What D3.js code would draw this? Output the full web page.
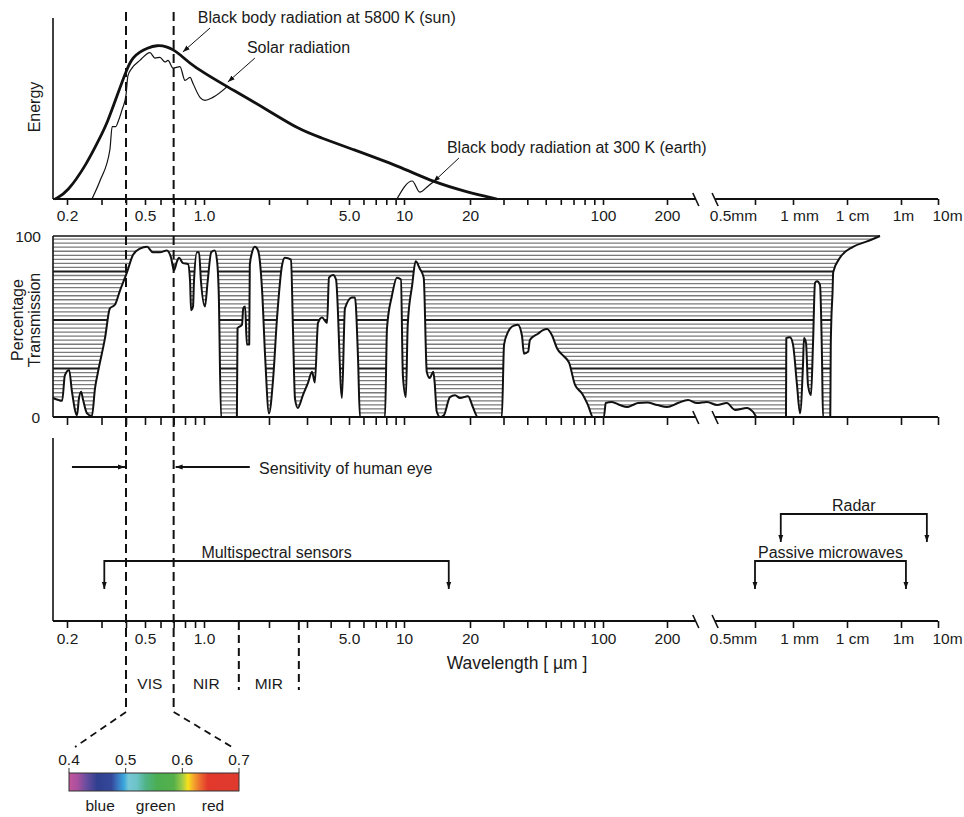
<!DOCTYPE html>
<html>
<head>
<meta charset="utf-8">
<script src="https://cdn.jsdelivr.net/npm/d3@7"></script>
<style>
  body { margin: 0; background: #fff; }
  svg { display: block; }
  text { font-family: "Liberation Sans", Arial, sans-serif; fill: #1a1a1a; }
</style>
</head>
<body>
<div id="chart"></div>
<script>
// ---- data (wavelengths in µm) ----

// hand-drawn axis: wavelength -> position knots (the figure is not a true log axis)
const knotWl = [0.2, 1, 3, 5, 10, 20, 100, 200, 500, 1000, 1e4, 1e6, 1e7];
const knotPx = [67, 204, 307, 349, 404, 470, 603, 667, 755, 793, 847, 901, 938];
const breakWl = [270, 330];

const tickWl = [0.2, 0.3, 0.4, 0.5, 0.6, 0.7, 0.8, 0.9, 1, 2, 3, 4, 5, 6, 7, 8, 9, 10,
  20, 30, 40, 50, 60, 70, 80, 90, 100, 200, 500, 1000, 1e4, 1e6, 1e7];
const labelWl = [0.2, 0.5, 1, 5, 10, 20, 100, 200, 500, 1000, 1e4, 1e6, 1e7];
const labelText = ["0.2", "0.5", "1.0", "5.0", "10", "20", "100", "200", "0.5mm", "1 mm", "1 cm", "1m", "10m"];

// energy curves (relative energy, peak = 1)
const sunWl = [0.174, 0.2, 0.253, 0.295, 0.32, 0.36, 0.405, 0.434, 0.471, 0.512, 0.576, 0.647,
  0.695, 0.754, 0.879, 1.28, 1.96, 2.78, 3.52, 5.03, 9.5, 13.6, 19.4, 27.7];
const sunE = [0, 0.04, 0.23, 0.40, 0.49, 0.67, 0.85, 0.92, 0.955, 0.98, 1.0, 0.99,
  0.97, 0.94, 0.86, 0.73, 0.58, 0.448, 0.40, 0.33, 0.21, 0.11, 0.045, 0];

const solarWl = [0.268, 0.295, 0.331, 0.340, 0.355, 0.364, 0.382, 0.400, 0.409, 0.429, 0.471, 0.530,
  0.562, 0.596, 0.632, 0.655, 0.695, 0.754, 0.80, 0.849, 0.879, 0.954, 1.01, 1.10, 1.28];
const solarE = [0, 0.12, 0.32, 0.47, 0.47, 0.50, 0.58, 0.675, 0.80, 0.85, 0.90, 0.95,
  0.915, 0.92, 0.89, 0.90, 0.85, 0.86, 0.77, 0.79, 0.75, 0.66, 0.64, 0.66, 0.73];

const earthWl = [9.15, 10.9, 11.8, 12.9, 13.6];
const earthE = [0, 0.117, 0.045, 0.085, 0.11];

// atmospheric transmission (%)
const transWl = [0.170, 0.189, 0.195, 0.205, 0.212, 0.225, 0.230, 0.236, 0.241, 0.253, 0.268, 0.278, 0.288,
  0.313, 0.331, 0.351, 0.373, 0.405, 0.434, 0.471, 0.512, 0.549, 0.596, 0.647, 0.679, 0.703, 0.728,
  0.745, 0.781, 0.828, 0.849, 0.859, 0.879, 0.889, 0.921, 0.943, 0.965, 1.01, 1.04, 1.08, 1.12,
  1.15, 1.17, 1.20, 1.42, 1.43, 1.50, 1.52, 1.55, 1.58, 1.62, 1.63, 1.67, 1.72, 1.78, 1.86, 1.92,
  2.00, 2.09, 2.18, 2.30, 2.37, 2.53, 2.58, 2.64, 2.72, 2.87, 3.04, 3.19, 3.30, 3.43, 3.60, 3.83,
  3.92, 4.12, 4.27, 4.59, 4.76, 5.19, 5.39, 5.60, 5.74, 7.87, 8.07, 8.59, 9.15, 9.62, 9.86, 10.2,
  10.4, 10.9, 11.3, 11.8, 12.3, 12.7, 13.1, 13.6, 13.8, 14.1, 14.6, 15.2, 16.2, 17.1, 18.0, 19.6,
  20.7, 22.0, 29.4, 30.2, 31.7, 33.3, 35.7, 37.5, 38.4, 40.4, 41.3, 45.5, 48.4, 50.8, 54.0, 57.3,
  61.6, 66.3, 71.3, 77.6, 83.4, 88.6, 101, 103, 110, 120, 130, 138, 146, 161, 180, 200, 224, 249,
  273, 303, 337, 373, 406, 460, 490, 518, 880, 885, 946, 1000, 1186, 1348, 1531, 1598, 1740, 1895,
  2154, 2345, 2555, 2783, 3162, 3444, 3594, 4900, 4950, 5000, 5100, 5400, 5550, 7400, 16700, 55000, 167000];
const transPct = [10.5, 9, 23, 26, 14, 1, 10, 14, 10, 2, 0.5, 16, 25,
  44, 60, 62, 70, 80, 89.5, 93, 94, 91, 91, 92, 88, 81, 86,
  88, 85, 84.5, 75, 59, 61, 75, 91, 91, 75, 61, 75, 91, 92,
  86, 69, 0, 0, 49, 51, 60, 61, 40, 40, 84, 91, 94, 92, 69, 33,
  2, 21, 55, 84, 88, 87, 51, 10, 5, 12, 19, 25, 19, 52, 55, 52,
  77, 78.5, 76, 10.5, 60, 66, 66, 33, 0, 0, 49, 67, 77, 76, 23, 11,
  51, 73, 86, 82, 77, 25, 21.5, 25, 19, 3, 0, 1, 11, 12, 10.5, 11.5,
  5.5, 0, 0, 40, 47, 50, 51, 45, 35, 36, 42.5, 46, 48, 48.6, 45, 38,
  34, 30, 17.7, 13, 6.6, 0, 0, 7.7, 8.3, 6.6, 5.5, 6.6, 7.7, 8, 6.6, 5.5, 7.7, 9.4,
  7.7, 8.3, 6.6, 7.7, 3.9, 5, 2.8, 0, 0, 43.6, 44, 40, 17.7, 2, 28.7, 43.6, 41, 17.7,
  12, 40, 74, 75, 73, 32.6, 0, 0, 17.7, 38, 51, 69, 80, 88, 94, 97, 100];

// annotations in the energy panel
const noteText = ["Black body radiation at 5800 K (sun)", "Solar radiation", "Black body radiation at 300 K (earth)"];
const noteTextWl = [0.93, 1.58, 15.7];
const noteTextE = [1.143, 0.951, 0.299];
const noteTailWl = [1.066, 1.72, 17.8];
const noteTailE = [1.11, 0.915, 0.266];
const noteHeadWl = [0.78, 1.29, 13.6];
const noteHeadE = [0.955, 0.76, 0.11];

// visible range and spectral regions
const eyeWl = [0.4, 0.7];
const regionNames = ["VIS", "NIR", "MIR"];
const regionEdges = [0.4, 0.7, 1.45, 2.75];

// sensor ranges
const sensorNames = ["Multispectral sensors", "Radar", "Passive microwaves"];
const sensorFrom = [0.31, 800, 500];
const sensorTo = [16, 5e6, 1.36e6];
const sensorRow = ["sensors", "radar", "sensors"];

// visible colour bar
const specTicks = [0.4, 0.5, 0.6, 0.7];
const specWl = [0.40, 0.415, 0.43, 0.45, 0.475, 0.487, 0.497, 0.505, 0.52, 0.535, 0.555, 0.585,
  0.6, 0.61, 0.62, 0.632, 0.645, 0.70];
const specColor = ["#c4549c", "#a9509e", "#6a4d9f", "#2f3f8f", "#34489a", "#3b7cc4", "#3aa6dc", "#76c7d6",
  "#6cc3c6", "#4fb487", "#4bae52", "#55b04a", "#a2cd45", "#f7e11b", "#f4a42c", "#ec6a2e", "#e2382c", "#df3a2f"];
const colourNames = ["blue", "green", "red"];
const colourWl = [0.455, 0.553, 0.654];

// ---- layout ----
const W = 964, H = 817;
const left = 53;
const base1 = 199, base2 = 417, top2 = 236, top3 = 438, base3 = 621;
const font = 15.5;

const svg = d3.select("#chart").append("svg").attr("width", W).attr("height", H);

const x = d3.scaleLinear().domain(knotWl.map(Math.log10)).range(knotPx);
const xw = w => x(Math.log10(w));
const yE = d3.scaleLinear().domain([0, 1]).range([base1, 45]);
const yT = d3.scaleLinear().domain([0, 100]).range([base2, top2]);
const rows = d3.scalePoint().domain(["eye", "radar", "sensors"]).range([467, 561]);
const xc = d3.scaleLinear().domain([0.4, 0.7]).range([69, 239]);

// arrow markers
const defs = svg.append("defs");
function marker(id, size) {
  defs.append("marker").attr("id", id)
    .attr("viewBox", "0 0 10 10").attr("refX", 10).attr("refY", 5)
    .attr("markerWidth", size).attr("markerHeight", size)
    .attr("markerUnits", "userSpaceOnUse")
    .attr("orient", "auto-start-reverse")
    .append("path").attr("d", "M0,1.5 L10,5 L0,8.5 Z").attr("fill", "#111");
}
marker("arrowThin", 7);
marker("arrowBold", 7);

// axis with a break
function drawAxis(y0, len, withLabels) {
  const axis = d3.axisBottom(x)
    .tickValues(tickWl.map(Math.log10))
    .tickSize(len)
    .tickPadding(4.5)
    .tickFormat((d, i) => {
      if (!withLabels) return "";
      const k = labelWl.indexOf(tickWl[i]);
      return k < 0 ? "" : labelText[k];
    });
  const g = svg.append("g").attr("transform", `translate(0,${y0})`).call(axis);
  g.attr("font-family", null).attr("font-size", null);
  g.select(".domain").remove();
  g.selectAll(".tick line").attr("stroke", "#111").attr("stroke-width", 1.6);
  g.selectAll(".tick text").attr("font-size", font).attr("fill", "#1a1a1a")
    .attr("dx", (d, i) => ({500: -22, 1000: 6, 10000: 5, 1000000: 2, 10000000: 9})[tickWl[i]] || 0);
  const bL = xw(breakWl[0]), bR = xw(breakWl[1]);
  [[left, bL], [bR, xw(1e7)]].forEach(([a, b]) => {
    g.append("line").attr("x1", a).attr("x2", b).attr("y1", 0).attr("y2", 0)
      .attr("stroke", "#111").attr("stroke-width", 1.8);
  });
  [bL, bR].forEach(b => {
    g.append("line").attr("x1", b - 3).attr("x2", b + 3).attr("y1", -6).attr("y2", 7)
      .attr("stroke", "#111").attr("stroke-width", 1.6);
  });
}

// ---- panel 1: energy ----
svg.append("line").attr("x1", left).attr("x2", left).attr("y1", 18).attr("y2", base1)
  .attr("stroke", "#111").attr("stroke-width", 1.6);
drawAxis(base1, 6, true);

svg.append("text").attr("transform", `translate(40,107) rotate(-90)`)
  .attr("text-anchor", "middle").attr("font-size", 16).text("Energy");

const eLine = d3.line().x(d => xw(d[0])).y(d => yE(d[1])).curve(d3.curveMonotoneX);
svg.append("path").attr("d", eLine(d3.zip(solarWl, solarE)))
  .attr("fill", "none").attr("stroke", "#111").attr("stroke-width", 1.2);
svg.append("path").attr("d", eLine(d3.zip(earthWl, earthE)))
  .attr("fill", "none").attr("stroke", "#111").attr("stroke-width", 1.2);
svg.append("path").attr("d", eLine.curve(d3.curveBasis)(d3.zip(sunWl, sunE)))
  .attr("fill", "none").attr("stroke", "#111").attr("stroke-width", 2.8)
  .attr("stroke-linejoin", "round");

noteText.forEach((t, i) => {
  svg.append("text").attr("x", xw(noteTextWl[i])).attr("y", yE(noteTextE[i]))
    .attr("font-size", 16).text(t);
  svg.append("line")
    .attr("x1", xw(noteTailWl[i])).attr("y1", yE(noteTailE[i]))
    .attr("x2", xw(noteHeadWl[i])).attr("y2", yE(noteHeadE[i]))
    .attr("stroke", "#111").attr("stroke-width", 1)
    .attr("marker-end", "url(#arrowThin)");
});

// ---- panel 2: transmission ----
const trans = d3.zip(transWl, transPct);
const tCurve = d3.curveMonotoneX;
const tArea = d3.area().x(d => xw(d[0])).y0(yT(100)).y1(d => yT(d[1])).curve(tCurve);
const tLine = d3.line().x(d => xw(d[0])).y(d => yT(d[1])).curve(tCurve);
const tEnd = xw(transWl[transWl.length - 1]);

defs.append("clipPath").attr("id", "absorbed").append("path").attr("d", tArea(trans));

const hatchStep = 26.8 / 12;
const hatchT = d3.range(1, 45).map(k => k * hatchStep);
svg.append("g").attr("clip-path", "url(#absorbed)")
  .selectAll("line").data(hatchT).join("line")
  .attr("x1", left).attr("x2", tEnd)
  .attr("y1", d => yT(d)).attr("y2", d => yT(d))
  .attr("stroke", (d, i) => (i + 1) % 12 === 0 ? "#1e1e1e" : "#7a7a7a")
  .attr("stroke-width", (d, i) => (i + 1) % 12 === 0 ? 2 : 1.3);

svg.append("line").attr("x1", left).attr("x2", tEnd).attr("y1", yT(100)).attr("y2", yT(100))
  .attr("stroke", "#111").attr("stroke-width", 1.6);
svg.append("path").attr("d", tLine(trans))
  .attr("fill", "none").attr("stroke", "#111").attr("stroke-width", 2)
  .attr("stroke-linejoin", "round");
svg.append("line").attr("x1", left).attr("x2", left).attr("y1", top2).attr("y2", base2)
  .attr("stroke", "#111").attr("stroke-width", 1.6);
drawAxis(base2, 8, false);

svg.append("text").attr("x", 41).attr("y", yT(100) + 5.5).attr("text-anchor", "end")
  .attr("font-size", font).text("100");
svg.append("text").attr("x", 40).attr("y", yT(0) + 5.5).attr("text-anchor", "end")
  .attr("font-size", font).text("0");
svg.append("text").attr("transform", `translate(23,320) rotate(-90)`)
  .attr("text-anchor", "middle").attr("font-size", 16).text("Percentage");
svg.append("text").attr("transform", `translate(40,320) rotate(-90)`)
  .attr("text-anchor", "middle").attr("font-size", 16).text("Transmission");

// ---- panel 3: sensors ----
svg.append("line").attr("x1", left).attr("x2", left).attr("y1", top3).attr("y2", base3)
  .attr("stroke", "#111").attr("stroke-width", 1.6);
drawAxis(base3, 7, true);

svg.append("text").attr("x", 517).attr("y", 669).attr("text-anchor", "middle")
  .attr("font-size", 17.5).text("Wavelength [ µm ]");

// sensitivity of the human eye
const yEye = rows("eye");
svg.append("line").attr("x1", xw(0.212)).attr("x2", xw(eyeWl[0]) - 1).attr("y1", yEye).attr("y2", yEye)
  .attr("stroke", "#111").attr("stroke-width", 1.8).attr("marker-end", "url(#arrowBold)");
svg.append("line").attr("x1", xw(1.63)).attr("x2", xw(eyeWl[1]) + 2).attr("y1", yEye).attr("y2", yEye)
  .attr("stroke", "#111").attr("stroke-width", 1.8).attr("marker-end", "url(#arrowBold)");
svg.append("text").attr("x", xw(1.80)).attr("y", yEye + 7).attr("font-size", 16)
  .text("Sensitivity of human eye");

// sensor brackets
sensorNames.forEach((name, i) => {
  const yTop = rows(sensorRow[i]);
  const a = xw(sensorFrom[i]), b = xw(sensorTo[i]);
  svg.append("path").attr("d", `M${a},${yTop + 28}V${yTop}H${b}V${yTop + 28}`)
    .attr("fill", "none").attr("stroke", "#111").attr("stroke-width", 1.8)
    .attr("marker-start", "url(#arrowBold)").attr("marker-end", "url(#arrowBold)");
  svg.append("text").attr("x", (a + b) / 2).attr("y", yTop - 3.5).attr("text-anchor", "middle")
    .attr("font-size", 16).text(name);
});

// spectral region boundaries and names
regionEdges.slice(2).forEach(w => {
  svg.append("line").attr("x1", xw(w)).attr("x2", xw(w)).attr("y1", base3 + 1).attr("y2", 690)
    .attr("stroke", "#111").attr("stroke-width", 2).attr("stroke-dasharray", "8,5");
});
regionNames.forEach((n, i) => {
  const c = (xw(regionEdges[i]) + xw(regionEdges[i + 1])) / 2;
  svg.append("text").attr("x", c).attr("y", 689).attr("text-anchor", "middle")
    .attr("font-size", font).text(n);
});

// ---- visible spectrum bar ----
const grad = defs.append("linearGradient").attr("id", "spectrum")
  .attr("x1", "0%").attr("x2", "100%").attr("y1", "0%").attr("y2", "0%");
specWl.forEach((w, i) => {
  grad.append("stop").attr("offset", `${(w - 0.4) / 0.3 * 100}%`).attr("stop-color", specColor[i]);
});
svg.append("rect").attr("x", xc(0.4)).attr("y", 773).attr("width", xc(0.7) - xc(0.4)).attr("height", 18)
  .attr("fill", "url(#spectrum)").attr("stroke", "#333").attr("stroke-width", 1);
specTicks.forEach(v => {
  svg.append("line").attr("x1", xc(v)).attr("x2", xc(v)).attr("y1", 768).attr("y2", 773)
    .attr("stroke", "#333").attr("stroke-width", 1);
  svg.append("text").attr("x", xc(v)).attr("y", 765).attr("text-anchor", "middle")
    .attr("font-size", font).text(v.toFixed(1));
});
colourNames.forEach((n, i) => {
  svg.append("text").attr("x", xc(colourWl[i])).attr("y", 811).attr("text-anchor", "middle")
    .attr("font-size", font).text(n);
});

// ---- visible range dashed guides ----
eyeWl.forEach((w, i) => {
  svg.append("line").attr("x1", xw(w)).attr("x2", xw(w)).attr("y1", 12).attr("y2", 712)
    .attr("stroke", "#111").attr("stroke-width", 2).attr("stroke-dasharray", "9,5");
  svg.append("line").attr("x1", xw(w)).attr("y1", 712)
    .attr("x2", xc(w) + (i === 0 ? 6 : -7)).attr("y2", 747)
    .attr("stroke", "#111").attr("stroke-width", 1.8).attr("stroke-dasharray", "7,5");
});
</script>
</body>
</html>
